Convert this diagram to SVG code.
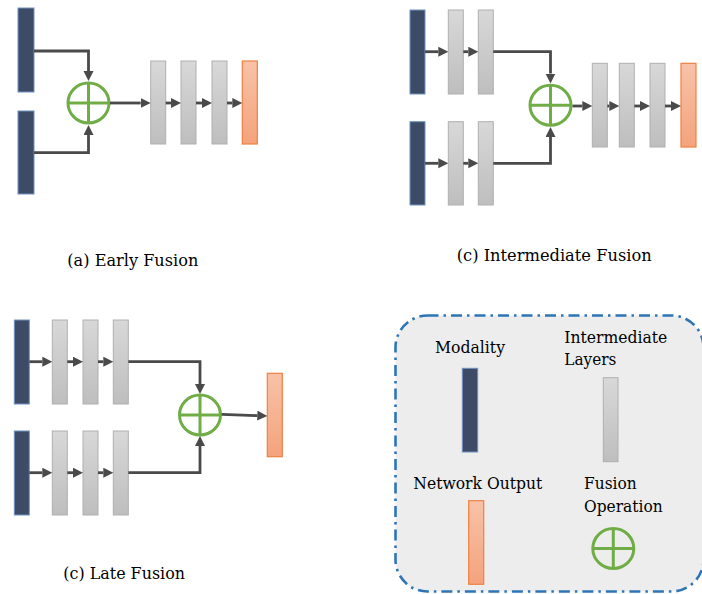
<svg xmlns="http://www.w3.org/2000/svg" width="702" height="594" viewBox="0 0 702 594">
<defs>
  <linearGradient id="gGray" x1="0" y1="0" x2="0" y2="1">
    <stop offset="0" stop-color="#D8D8D8"/>
    <stop offset="1" stop-color="#BEBEBE"/>
  </linearGradient>
  <linearGradient id="gOrange" x1="0" y1="0" x2="0" y2="1">
    <stop offset="0" stop-color="#F8C2A8"/>
    <stop offset="1" stop-color="#F4A37D"/>
  </linearGradient>
  <marker id="arr" markerUnits="userSpaceOnUse" markerWidth="11" markerHeight="11" refX="0" refY="5" orient="auto">
    <path d="M0,0 L10,5 L0,10 Z" fill="#4A4A4A"/>
  </marker>
  <g id="fusion">
    <ellipse cx="0" cy="0" rx="20.5" ry="20" fill="none" stroke="#70AD47" stroke-width="3"/>
    <line x1="-20.5" y1="0" x2="20.5" y2="0" stroke="#70AD47" stroke-width="3"/>
    <line x1="0" y1="-20" x2="0" y2="20" stroke="#70AD47" stroke-width="3"/>
  </g>
</defs>
<style>
  .mod { fill: #3E4B66; stroke: #6F93C2; stroke-width: 1; }
  .lay { fill: url(#gGray); stroke: #B0B0B0; stroke-width: 1; }
  .out { fill: url(#gOrange); stroke: #EE8142; stroke-width: 1.2; }
  .con { fill: none; stroke: #4A4A4A; stroke-width: 2.8; marker-end: url(#arr); }
  .txt { font-family: "DejaVu Serif", "Liberation Serif", serif; font-size: 17.5px; fill: #000000; }
</style>

<!-- Legend box (background) -->
<g id="legend-box">
  <rect x="395.5" y="315.5" width="308" height="276" rx="32" ry="32" fill="#EDEDED" stroke="#2E75B6" stroke-width="2.6" stroke-dasharray="11 5 2.5 5"/>
</g>

<!-- Early fusion -->
<g id="early-mod1"><rect class="mod" x="18" y="8" width="16" height="84"/></g>
<g id="early-mod2"><rect class="mod" x="18" y="111" width="16" height="83"/></g>
<g id="early-fuse"><use href="#fusion" x="88.5" y="103"/></g>
<g id="early-l1"><rect class="lay" x="150.7" y="61" width="15" height="83"/></g>
<g id="early-l2"><rect class="lay" x="181" y="61" width="15" height="83"/></g>
<g id="early-l3"><rect class="lay" x="212" y="61" width="15" height="83"/></g>
<g id="early-out"><rect class="out" x="242.3" y="61" width="15" height="83"/></g>
<g id="early-caption"><text class="txt" x="67.3" y="266" textLength="131" lengthAdjust="spacingAndGlyphs">(a) Early Fusion</text></g>

<!-- Intermediate fusion -->
<g id="inter-mod1"><rect class="mod" x="410" y="10" width="15" height="84"/></g>
<g id="inter-a1"><rect class="lay" x="448.3" y="10" width="15" height="84"/></g>
<g id="inter-a2"><rect class="lay" x="478.3" y="10" width="15" height="84"/></g>
<g id="inter-mod2"><rect class="mod" x="410" y="121.7" width="15" height="83.3"/></g>
<g id="inter-b1"><rect class="lay" x="448.3" y="121.7" width="15" height="83.3"/></g>
<g id="inter-b2"><rect class="lay" x="478.3" y="121.7" width="15" height="83.3"/></g>
<g id="inter-fuse"><use href="#fusion" x="550.5" y="105.3"/></g>
<g id="inter-l1"><rect class="lay" x="592.3" y="63.3" width="15" height="83.7"/></g>
<g id="inter-l2"><rect class="lay" x="619.3" y="63.3" width="15" height="83.7"/></g>
<g id="inter-l3"><rect class="lay" x="650" y="63.3" width="15" height="83.7"/></g>
<g id="inter-out"><rect class="out" x="681" y="63.3" width="15" height="83.7"/></g>
<g id="inter-caption"><text class="txt" x="456.7" y="261" textLength="195" lengthAdjust="spacingAndGlyphs">(c) Intermediate Fusion</text></g>

<!-- Late fusion -->
<g id="late-mod1"><rect class="mod" x="14.3" y="320" width="15" height="84"/></g>
<g id="late-a1"><rect class="lay" x="52.3" y="320" width="15" height="84"/></g>
<g id="late-a2"><rect class="lay" x="83" y="320" width="15" height="84"/></g>
<g id="late-a3"><rect class="lay" x="113.3" y="320" width="15" height="84"/></g>
<g id="late-mod2"><rect class="mod" x="14.3" y="431" width="15" height="84"/></g>
<g id="late-b1"><rect class="lay" x="52.3" y="431" width="15" height="84"/></g>
<g id="late-b2"><rect class="lay" x="83" y="431" width="15" height="84"/></g>
<g id="late-b3"><rect class="lay" x="113.3" y="431" width="15" height="84"/></g>
<g id="late-fuse"><use href="#fusion" x="200" y="415"/></g>
<g id="late-out"><rect class="out" x="267.3" y="373.3" width="15" height="83.4"/></g>
<g id="late-caption"><text class="txt" x="63.3" y="578.7" textLength="121.7" lengthAdjust="spacingAndGlyphs">(c) Late Fusion</text></g>

<!-- Connectors -->
<g id="connectors">
  <!-- early -->
  <path class="con" d="M34,51 H88.5 V71"/>
  <path class="con" d="M34,152.7 H88.5 V135"/>
  <path class="con" d="M110,103 H140.7"/>
  <path class="con" d="M165.7,103 H171"/>
  <path class="con" d="M196,103 H202"/>
  <path class="con" d="M227,103 H232.3"/>
  <!-- intermediate -->
  <path class="con" d="M425,51.7 H438.3"/>
  <path class="con" d="M463.3,51.7 H468.3"/>
  <path class="con" d="M493.3,51.7 H550.5 V73.5"/>
  <path class="con" d="M425,163.3 H438.3"/>
  <path class="con" d="M463.3,163.3 H468.3"/>
  <path class="con" d="M493.3,163.3 H550.5 V137"/>
  <path class="con" d="M572.5,106 H582.3"/>
  <path class="con" d="M607.3,106 H609.3"/>
  <path class="con" d="M634.3,106 H640"/>
  <path class="con" d="M665,106 H671"/>
  <!-- late -->
  <path class="con" d="M29.3,361.7 H42.3"/>
  <path class="con" d="M67.3,361.7 H73"/>
  <path class="con" d="M98,361.7 H103.3"/>
  <path class="con" d="M128.3,361.7 H200 V384"/>
  <path class="con" d="M29.3,472.7 H42.3"/>
  <path class="con" d="M67.3,472.7 H73"/>
  <path class="con" d="M98,472.7 H103.3"/>
  <path class="con" d="M128.3,472.7 H200 V446"/>
  <path class="con" d="M221.7,414.3 L257.3,415.6"/>
</g>

<!-- Legend items -->
<g id="legend-modality">
  <text class="txt" x="435" y="353" textLength="70" lengthAdjust="spacingAndGlyphs">Modality</text>
  <rect class="mod" x="462.3" y="368.3" width="15.4" height="83.7"/>
</g>
<g id="legend-layers">
  <text class="txt" x="564.3" y="343.3" textLength="103" lengthAdjust="spacingAndGlyphs">Intermediate</text>
  <text class="txt" x="564.3" y="364.5" textLength="52" lengthAdjust="spacingAndGlyphs">Layers</text>
  <rect class="lay" x="603.3" y="377.7" width="14.7" height="84"/>
</g>
<g id="legend-output">
  <text class="txt" x="413.3" y="489" textLength="129" lengthAdjust="spacingAndGlyphs">Network Output</text>
  <rect class="out" x="468.7" y="500.7" width="15" height="83.6"/>
</g>
<g id="legend-fusion">
  <text class="txt" x="584" y="489" textLength="52.7" lengthAdjust="spacingAndGlyphs">Fusion</text>
  <text class="txt" x="584" y="512.3" textLength="78.7" lengthAdjust="spacingAndGlyphs">Operation</text>
  <use href="#fusion" x="613.3" y="548.5"/>
</g>
</svg>
